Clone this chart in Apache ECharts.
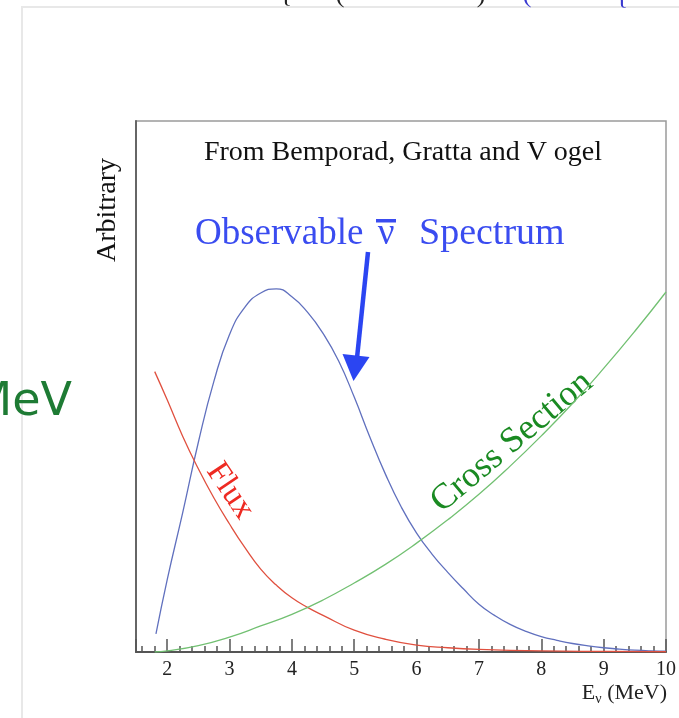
<!DOCTYPE html>
<html>
<head>
<meta charset="utf-8">
<script src="https://cdn.jsdelivr.net/npm/echarts@6/dist/echarts.min.js"></script>
<style>
html,body{margin:0;padding:0;background:#fff;}
#c{width:679px;height:718px;}
</style>
</head>
<body>
<div id="c"></div>
<script>
// Energy (MeV) and arbitrary-unit values
const spectrumX = [1.82, 2.0, 2.25, 2.5, 2.75, 3.0, 3.25, 3.5, 3.75, 4.0, 4.25, 4.5, 4.75, 5.0, 5.25, 5.5, 5.75, 6.0, 6.25, 6.5, 6.75, 7.0, 7.25, 7.5, 7.75, 8.0, 8.25, 8.5, 8.75, 9.0, 9.25, 9.5, 9.75, 10.0];
const spectrumY = [3.4, 13.6, 26.3, 39.5, 51.0, 59.8, 65.0, 67.6, 68.4, 66.9, 64.0, 60.0, 54.8, 48.0, 40.5, 33.5, 27.4, 22.4, 18.4, 15.0, 11.9, 9.0, 6.9, 5.2, 3.9, 2.9, 2.2, 1.6, 1.15, 0.8, 0.55, 0.35, 0.22, 0.15];

const fluxX = [1.8, 2.0, 2.25, 2.5, 2.75, 3.0, 3.25, 3.5, 3.75, 4.0, 4.25, 4.5, 5.0, 5.5, 6.0, 6.5, 7.0, 8.0, 9.0, 10.0];
const fluxY = [52.8, 47.5, 40.6, 34.5, 29.0, 24.1, 19.6, 15.6, 12.6, 10.2, 8.4, 6.9, 4.1, 2.4, 1.3, 0.8, 0.5, 0.2, 0.1, 0.05];

const crossX = [1.8, 2.0, 2.5, 3.0, 3.5, 4.0, 4.5, 5.0, 5.5, 6.0, 6.5, 7.0, 7.5, 8.0, 8.5, 9.0, 9.5, 10.0];
const crossY = [0, 0.2, 1.2, 2.8, 4.9, 7.1, 9.8, 13.0, 16.5, 20.5, 24.9, 29.7, 35.0, 40.7, 46.8, 53.4, 60.4, 67.8];

const xMin = 1.5, xMax = 10;
const yMin = 0, yMax = 100;

function pairs(xs, ys){ return xs.map((x,i)=>[x, ys[i]]); }

const serif = 'Liberation Serif';
const chart = echarts.init(document.getElementById('c'));
chart.setOption({
  animation: false,
  backgroundColor: '#fff',
  grid: {left: 136, top: 121, width: 531, height: 531, show: true, borderColor: '#9a9a9a', borderWidth: 1.5, backgroundColor: 'transparent'},
  xAxis: {
    type: 'value', min: xMin, max: xMax, splitNumber: 8,
    axisLine: {show: true, lineStyle: {color: '#555', width: 2}},
    axisTick: {show: true, inside: true, length: 13, lineStyle: {color: '#555', width: 1.5}},
    minorTick: {show: true, splitNumber: 5, length: 6, lineStyle: {color: '#555', width: 1.5}},
    splitLine: {show: false},
    axisLabel: {show: true, showMinLabel: false, margin: 8, fontFamily: serif, fontSize: 20, color: '#222',
      formatter: v => (Math.abs(v - Math.round(v)) < 1e-6 ? String(Math.round(v)) : '')}
  },
  yAxis: {
    type: 'value', min: yMin, max: yMax,
    axisLine: {show: true, lineStyle: {color: '#666', width: 2}},
    axisTick: {show: false}, axisLabel: {show: false}, splitLine: {show: false}
  },
  series: [
    {type: 'line', name: 'Observable spectrum', data: pairs(spectrumX, spectrumY), smooth: 0.5, showSymbol: false,
      lineStyle: {color: '#6070be', width: 1.3}},
    {type: 'line', name: 'Flux', data: pairs(fluxX, fluxY), smooth: 0.5, showSymbol: false,
      lineStyle: {color: '#e0503f', width: 1.3}},
    {type: 'line', name: 'Cross Section', data: pairs(crossX, crossY), smooth: 0.5, showSymbol: false,
      lineStyle: {color: '#72c072', width: 1.3}}
  ],
  graphic: [
    {type: 'rect', shape: {x: 22, y: 7, width: 720, height: 730}, style: {fill: 'none', stroke: '#e8e8e8', lineWidth: 2}, silent: true},
    {type: 'text', x: 286, y: 8, style: {text: '{', align: 'center', verticalAlign: 'bottom', fontFamily: serif, fontSize: 26, fill: '#222'}},
    {type: 'text', x: 340, y: 8, style: {text: '(', align: 'center', verticalAlign: 'bottom', fontFamily: serif, fontSize: 26, fill: '#222'}},
    {type: 'text', x: 481, y: 8, style: {text: ')', align: 'center', verticalAlign: 'bottom', fontFamily: serif, fontSize: 26, fill: '#222'}},
    {type: 'text', x: 527, y: 8, style: {text: '(', align: 'center', verticalAlign: 'bottom', fontFamily: serif, fontSize: 26, fill: '#3a3ad0'}},
    {type: 'text', x: 622, y: 10, style: {text: '{', align: 'center', verticalAlign: 'bottom', fontFamily: serif, fontSize: 26, fill: '#3a3ad0'}},
    {type: 'text', x: 72, y: 403, style: {text: 'MeV', align: 'right', verticalAlign: 'middle', fontFamily: 'DejaVu Sans', fontSize: 46, fill: '#1e7b34'}},
    {type: 'text', x: 403, y: 153, style: {text: 'From Bemporad, Gratta and V ogel', align: 'center', verticalAlign: 'middle', fontFamily: serif, fontSize: 28, fill: '#111'}},
    {type: 'text', x: 108, y: 210, rotation: Math.PI / 2, style: {text: 'Arbitrary', align: 'center', verticalAlign: 'middle', fontFamily: serif, fontSize: 28, fill: '#111'}},
    {type: 'text', x: 195, y: 234, style: {text: 'Observable', align: 'left', verticalAlign: 'middle', fontFamily: serif, fontSize: 37, fill: '#3a4cf0'}},
    {type: 'text', x: 386, y: 234, style: {text: 'ν', align: 'center', verticalAlign: 'middle', fontFamily: serif, fontSize: 37, fill: '#3a4cf0'}},
    {type: 'rect', shape: {x: 376, y: 219, width: 20, height: 3.5}, style: {fill: '#3a4cf0'}},
    {type: 'text', x: 419, y: 234, style: {text: 'Spectrum', align: 'left', verticalAlign: 'middle', fontFamily: serif, fontSize: 38, fill: '#3a4cf0'}},
    {type: 'line', shape: {x1: 368, y1: 252, x2: 357, y2: 358}, style: {stroke: '#2b45f2', lineWidth: 4.5}},
    {type: 'polygon', shape: {points: [[342.5, 354], [369.5, 357], [353.5, 381]]}, style: {fill: '#2b45f2'}},
    {type: 'text', x: 230, y: 491, rotation: -56 * Math.PI / 180, style: {text: 'Flux', align: 'center', verticalAlign: 'middle', fontFamily: serif, fontSize: 33, fill: '#ee2a22'}},
    {type: 'text', x: 512, y: 442, rotation: 40 * Math.PI / 180, style: {text: 'Cross Section', align: 'center', verticalAlign: 'middle', fontFamily: serif, fontSize: 36, fill: '#1a8a22'}},
    {type: 'text', x: 667, y: 693, style: {text: '{a|E}{b|ν}{a| (MeV)}', align: 'right', verticalAlign: 'middle',
      rich: {a: {fontFamily: serif, fontSize: 22, fill: '#222'}, b: {fontFamily: serif, fontSize: 14, fill: '#222', padding: [12, 0, 0, 0]}}}}
  ]
});
</script>
</body>
</html>
